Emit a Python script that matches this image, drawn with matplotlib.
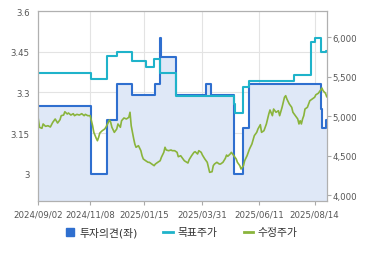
import numpy as np
import matplotlib
matplotlib.use('Agg')
import matplotlib.pyplot as plt
from matplotlib.lines import Line2D

plt.rcParams['font.family'] = ['DejaVu Sans', 'Noto Sans CJK KR']

# x axis: trading-day index, tick labels at their dates
tick_pos = [0, 43, 88, 136, 183, 229]
tick_labels = ['2024/09/02', '2024/11/08', '2025/01/15', '2025/03/31', '2025/06/11', '2025/08/14']
last_idx = 239

# 투자의견 (left axis), step changes
op_idx = [0, 44, 57, 65, 78, 97, 101, 102, 114, 139, 143, 162, 170, 175, 234, 235, 238, 239]
op_val = [3.25, 3.0, 3.2, 3.33, 3.29, 3.33, 3.5, 3.43, 3.29, 3.33, 3.29, 3.0, 3.17, 3.33, 3.24, 3.17, 3.2, 3.2]

# 목표주가 (right axis), step changes
tp_idx = [0, 44, 57, 65, 78, 89, 96, 101, 114, 162, 163, 170, 175, 212, 226, 229, 234, 238, 239]
tp_val = [5550, 5470, 5760, 5820, 5705, 5630, 5728, 5545, 5255, 5150, 5040, 5365, 5450, 5525, 5935, 5995, 5810, 5830, 5830]

# 수정주가 (right axis)
pr_idx = [0, 1, 3, 4, 6, 8, 10, 12, 14, 16, 18, 19, 21, 22, 24, 25, 27, 29, 30, 32,
          34, 36, 38, 39, 41, 43, 45, 46, 48, 49, 50, 51, 53, 55, 56, 59, 60, 61, 63, 65,
          66, 68, 69, 71, 73, 75, 76, 77, 79, 80, 81, 83, 85, 86, 87, 89, 91, 92, 94, 96,
          97, 99, 101, 102, 104, 105, 106, 108, 110, 111, 113, 115, 116, 118, 120, 121, 124, 125, 127, 129,
          130, 132, 133, 135, 136, 138, 140, 141, 142, 144, 145, 146, 148, 150, 151, 153, 155, 156, 157, 159,
          160, 162, 164, 165, 167, 168, 170, 171, 173, 175, 177, 179, 181, 182, 184, 185, 187, 189, 191, 192,
          194, 195, 197, 199, 200, 202, 204, 205, 206, 208, 210, 211, 213, 215, 216, 217, 218, 219, 220, 221,
          223, 224, 225, 227, 229, 230, 232, 234, 235, 236, 238, 239]
pr_val = [4966, 4861, 4848, 4903, 4873, 4881, 4865, 4924, 4966, 4915, 4957, 5008, 5016, 5058, 5029, 5042, 5016, 5033, 5008, 5025,
          5016, 5033, 5008, 5025, 5008, 5008, 4881, 4797, 4722, 4691, 4734, 4789, 4818, 4839, 4861, 4953, 4924, 4861, 4797, 4839,
          4903, 4861, 4944, 4979, 4966, 4987, 5051, 4880, 4720, 4649, 4608, 4628, 4565, 4501, 4460, 4438, 4418, 4418, 4396, 4375,
          4396, 4418, 4438, 4481, 4544, 4608, 4574, 4565, 4574, 4565, 4565, 4544, 4489, 4501, 4460, 4438, 4409, 4451, 4501, 4544,
          4552, 4523, 4565, 4544, 4510, 4460, 4418, 4354, 4291, 4299, 4375, 4396, 4418, 4396, 4396, 4418, 4468, 4510, 4494, 4523,
          4544, 4501, 4460, 4418, 4375, 4333, 4375, 4438, 4501, 4586, 4649, 4755, 4797, 4839, 4894, 4797, 4818, 4903, 5029, 5080,
          5008, 5092, 5051, 5071, 5008, 5114, 5241, 5261, 5219, 5156, 5114, 5051, 5008, 4966, 4903, 4944, 4903, 4966, 5008, 5092,
          5114, 5156, 5197, 5219, 5241, 5273, 5291, 5333, 5358, 5324, 5291, 5248]

c_op = '#2f6fcf'
c_fill = '#dfe8f7'
c_tp = '#1fb3ca'
c_pr = '#8ab43c'
c_grid = '#e3e3e3'
c_txt = '#555555'

fig = plt.figure(figsize=(3.7, 2.55), dpi=100)
ax = fig.add_axes([0.1035, 0.209, 0.7795, 0.7428])
ax2 = ax.twinx()

ax.fill_between(op_idx, op_val, 2.9, step='post', color=c_fill, lw=0)
ax.step(op_idx, op_val, where='post', color=c_op, lw=1.5, zorder=3)
ax2.step(tp_idx, tp_val, where='post', color=c_tp, lw=1.5)
ax2.plot(pr_idx, pr_val, color=c_pr, lw=1.2)

ax.set_xlim(0, last_idx)
ax.set_ylim(2.9, 3.6)
ax2.set_ylim(3932, 6329)

ax.set_yticks([3.0, 3.15, 3.3, 3.45, 3.6])
ax.set_yticklabels(['3', '3.15', '3.3', '3.45', '3.6'])
ax.set_xticks(tick_pos)
ax.set_xticklabels(tick_labels)
ax2.set_yticks([4000, 4500, 5000, 5500, 6000])
ax2.set_yticklabels(['4,000', '4,500', '5,000', '5,500', '6,000'])

ax.grid(True, color=c_grid, lw=0.8)
ax.set_axisbelow(True)
ax.tick_params(axis='y', length=0, pad=6, labelsize=6.2, colors=c_txt)
ax.tick_params(axis='x', length=3, pad=3, labelsize=6.2, colors=c_txt, color='#aaaaaa')
ax2.tick_params(axis='y', length=3, pad=1, labelsize=6.2, colors=c_txt, color='#aaaaaa')
for a in (ax, ax2):
    for s in a.spines.values():
        s.set_color('#b0b0b0')
        s.set_linewidth(0.8)

handles = [
    Line2D([], [], marker='s', color=c_op, linestyle='none', markersize=6),
    Line2D([], [], color=c_tp, lw=2),
    Line2D([], [], color=c_pr, lw=2),
]
fig.legend(handles, ['투자의견(좌)', '목표주가', '수정주가'], loc='center',
           bbox_to_anchor=(0.49, 0.086), ncol=3, frameon=False, fontsize=7.8,
           handlelength=0.9, handletextpad=0.4, columnspacing=2.4, labelcolor='#333333')

fig.savefig('out.png', dpi=100)
